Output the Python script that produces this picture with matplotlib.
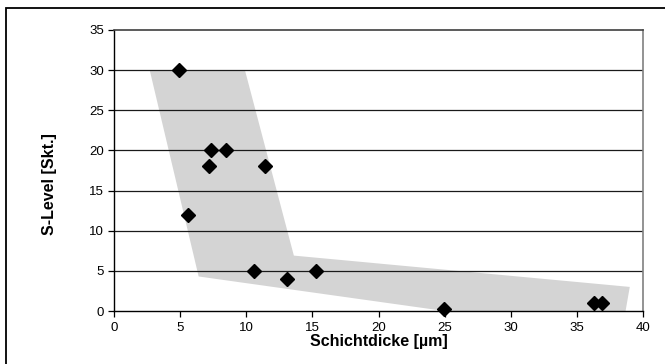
import matplotlib

matplotlib.use("Agg")
import matplotlib.pyplot as plt
from matplotlib.patches import Polygon, Rectangle

plt.rcParams["font.family"] = ["Liberation Sans", "DejaVu Sans"]

# measured points
schichtdicke = [4.9, 5.6, 7.2, 7.3, 8.5, 11.45, 10.6, 13.1, 15.3, 24.95, 36.3, 36.9]
s_level = [30, 12, 18, 20, 20, 18, 5, 4, 5, 0.3, 1, 1]

# grey trend band (corner points)
band_x = [2.7, 9.9, 13.6, 39.0, 38.65, 25.0, 6.4]
band_y = [30, 30, 6.9, 3.0, -0.3, 0.0, 4.3]

x_ticks = [0, 5, 10, 15, 20, 25, 30, 35, 40]
y_ticks = [0, 5, 10, 15, 20, 25, 30, 35]

fig = plt.figure(figsize=(6.65, 3.64), dpi=100)
ax = fig.add_axes([114 / 665, 1 - 311 / 364, 529 / 665, 281 / 364])

ax.add_patch(Polygon(list(zip(band_x, band_y)), closed=True,
                     facecolor="#d4d4d4", edgecolor="none", zorder=1))
for y in y_ticks[1:-1]:
    ax.axhline(y, color="#1a1a1a", lw=0.9, zorder=2)
ax.plot(schichtdicke, s_level, linestyle="none", marker="D", ms=7.2,
        color="black", zorder=3, clip_on=False)

ax.set_xlim(0, 40)
ax.set_ylim(0, 35)
ax.set_xticks(x_ticks)
ax.set_yticks(y_ticks)
ax.tick_params(axis="both", direction="out", length=4, width=0.9,
               labelsize=9.5, pad=3)
ax.tick_params(axis="x", pad=4)

ax.spines["left"].set_color("black")
ax.spines["bottom"].set_color("black")
ax.spines["left"].set_linewidth(1.0)
ax.spines["bottom"].set_linewidth(1.0)
ax.spines["top"].set_color("#404040")
ax.spines["top"].set_linewidth(1.2)
ax.spines["right"].set_color("#808080")
ax.spines["right"].set_linewidth(1.2)

ax.set_xlabel("Schichtdicke [µm]", fontsize=11.5, fontweight="bold", labelpad=0)
ax.set_ylabel("S-Level [Skt.]", fontsize=11.5, fontweight="bold")
ax.yaxis.set_label_coords(-0.108, 0.452)

# outer chart frame (only left and top edge fall inside the picture)
fig.patches.append(Rectangle((6 / 665, -0.1), 1.2, 1 - 8 / 364 + 0.1,
                             transform=fig.transFigure, fill=False,
                             edgecolor="black", lw=1.3))

fig.savefig("out.png", dpi=100)
